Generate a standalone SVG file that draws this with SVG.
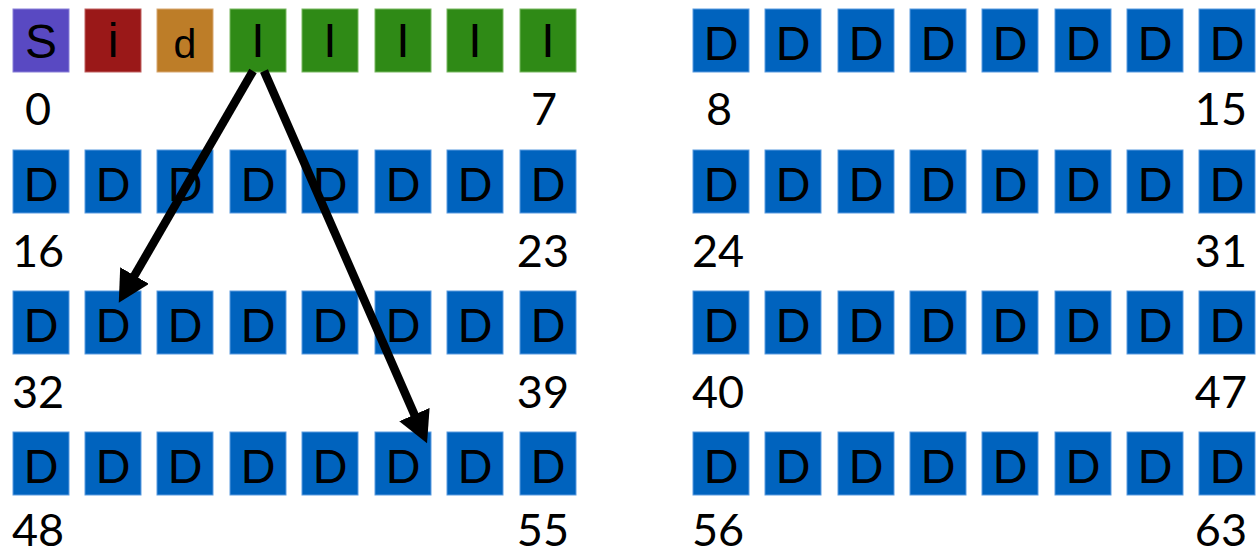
<svg xmlns="http://www.w3.org/2000/svg" width="1256" height="555" viewBox="0 0 1256 555">
<style>
.b{stroke-width:1}
.D{fill:#0063be;stroke:#5a9be0}
.S{fill:#5949c2;stroke:#8a80d8}
.i{fill:#9a1818;stroke:#c06060}
.d{fill:#bd7d28;stroke:#d8a870}
.I{fill:#2f8a16;stroke:#78b860}
.t{font-family:Lato,"Open Sans",sans-serif;font-size:46px;fill:#000;text-anchor:middle}
.a{font-family:"Liberation Sans",Arial,sans-serif;font-size:48px;fill:#000;text-anchor:middle}
.n{font-family:Lato,"Open Sans",sans-serif;font-size:45px;fill:#000}
.e{text-anchor:end}
.ar{stroke:#000;stroke-width:8.5;fill:none}
</style>
<defs>
<marker id="ah" viewBox="0 0 10 10" refX="3" refY="5" markerWidth="3.7" markerHeight="3.9" orient="auto" preserveAspectRatio="none"><path d="M0,0 L10,5 L0,10 z" fill="#000"/></marker>
<g id="dbox"><rect class="b D" x="0" y="0" width="56" height="63"/><text class="t" x="28" y="51">D</text></g>
</defs>
<!-- row 1 left -->
<g id="n0"><rect class="b S" x="13" y="9" width="56" height="63"/><text class="a" x="41" y="58">S</text></g>
<g id="n1"><rect class="b i" x="85" y="9" width="56" height="63"/><text class="a" x="113" y="57">i</text></g>
<g id="n2"><rect class="b d" x="157" y="9" width="56" height="63"/><text class="a" x="185" y="58" style="font-size:41px">d</text></g>
<g id="n3"><rect class="b I" x="230" y="9" width="56" height="63"/><text class="a" x="258" y="57">I</text></g>
<g id="n4"><rect class="b I" x="302" y="9" width="56" height="63"/><text class="a" x="330" y="57">I</text></g>
<g id="n5"><rect class="b I" x="375" y="9" width="56" height="63"/><text class="a" x="403" y="57">I</text></g>
<g id="n6"><rect class="b I" x="447" y="9" width="56" height="63"/><text class="a" x="475" y="57">I</text></g>
<g id="n7"><rect class="b I" x="520" y="9" width="56" height="63"/><text class="a" x="548" y="57">I</text></g>
<!-- right row 1 -->
<g id="n8"><use href="#dbox" x="693" y="9"/></g>
<g id="n9"><use href="#dbox" x="765" y="9"/></g>
<g id="n10"><use href="#dbox" x="838" y="9"/></g>
<g id="n11"><use href="#dbox" x="910" y="9"/></g>
<g id="n12"><use href="#dbox" x="982" y="9"/></g>
<g id="n13"><use href="#dbox" x="1055" y="9"/></g>
<g id="n14"><use href="#dbox" x="1127" y="9"/></g>
<g id="n15"><use href="#dbox" x="1199" y="9"/></g>
<!-- left row 2 -->
<g id="n16"><use href="#dbox" x="13" y="150"/></g>
<g id="n17"><use href="#dbox" x="85" y="150"/></g>
<g id="n18"><use href="#dbox" x="157" y="150"/></g>
<g id="n19"><use href="#dbox" x="230" y="150"/></g>
<g id="n20"><use href="#dbox" x="302" y="150"/></g>
<g id="n21"><use href="#dbox" x="375" y="150"/></g>
<g id="n22"><use href="#dbox" x="447" y="150"/></g>
<g id="n23"><use href="#dbox" x="520" y="150"/></g>
<!-- right row 2 -->
<g id="n24"><use href="#dbox" x="693" y="150"/></g>
<g id="n25"><use href="#dbox" x="765" y="150"/></g>
<g id="n26"><use href="#dbox" x="838" y="150"/></g>
<g id="n27"><use href="#dbox" x="910" y="150"/></g>
<g id="n28"><use href="#dbox" x="982" y="150"/></g>
<g id="n29"><use href="#dbox" x="1055" y="150"/></g>
<g id="n30"><use href="#dbox" x="1127" y="150"/></g>
<g id="n31"><use href="#dbox" x="1199" y="150"/></g>
<!-- left row 3 -->
<g id="n32"><use href="#dbox" x="13" y="291"/></g>
<g id="n33"><use href="#dbox" x="85" y="291"/></g>
<g id="n34"><use href="#dbox" x="157" y="291"/></g>
<g id="n35"><use href="#dbox" x="230" y="291"/></g>
<g id="n36"><use href="#dbox" x="302" y="291"/></g>
<g id="n37"><use href="#dbox" x="375" y="291"/></g>
<g id="n38"><use href="#dbox" x="447" y="291"/></g>
<g id="n39"><use href="#dbox" x="520" y="291"/></g>
<!-- right row 3 -->
<g id="n40"><use href="#dbox" x="693" y="291"/></g>
<g id="n41"><use href="#dbox" x="765" y="291"/></g>
<g id="n42"><use href="#dbox" x="838" y="291"/></g>
<g id="n43"><use href="#dbox" x="910" y="291"/></g>
<g id="n44"><use href="#dbox" x="982" y="291"/></g>
<g id="n45"><use href="#dbox" x="1055" y="291"/></g>
<g id="n46"><use href="#dbox" x="1127" y="291"/></g>
<g id="n47"><use href="#dbox" x="1199" y="291"/></g>
<!-- left row 4 -->
<g id="n48"><use href="#dbox" x="13" y="432"/></g>
<g id="n49"><use href="#dbox" x="85" y="432"/></g>
<g id="n50"><use href="#dbox" x="157" y="432"/></g>
<g id="n51"><use href="#dbox" x="230" y="432"/></g>
<g id="n52"><use href="#dbox" x="302" y="432"/></g>
<g id="n53"><use href="#dbox" x="375" y="432"/></g>
<g id="n54"><use href="#dbox" x="447" y="432"/></g>
<g id="n55"><use href="#dbox" x="520" y="432"/></g>
<!-- right row 4 -->
<g id="n56"><use href="#dbox" x="693" y="432"/></g>
<g id="n57"><use href="#dbox" x="765" y="432"/></g>
<g id="n58"><use href="#dbox" x="838" y="432"/></g>
<g id="n59"><use href="#dbox" x="910" y="432"/></g>
<g id="n60"><use href="#dbox" x="982" y="432"/></g>
<g id="n61"><use href="#dbox" x="1055" y="432"/></g>
<g id="n62"><use href="#dbox" x="1127" y="432"/></g>
<g id="n63"><use href="#dbox" x="1199" y="432"/></g>
<!-- index labels -->
<g id="labels">
<text class="n" x="25" y="125">0</text>
<text class="n e" x="557" y="125">7</text>
<text class="n" x="706" y="125">8</text>
<text class="n e" x="1247" y="125">15</text>
<text class="n" x="12" y="267">16</text>
<text class="n e" x="569" y="267">23</text>
<text class="n" x="692" y="267">24</text>
<text class="n e" x="1247" y="267">31</text>
<text class="n" x="12" y="408">32</text>
<text class="n e" x="569" y="408">39</text>
<text class="n" x="692" y="408">40</text>
<text class="n e" x="1247" y="408">47</text>
<text class="n" x="12" y="546">48</text>
<text class="n e" x="569" y="546">55</text>
<text class="n" x="692" y="546">56</text>
<text class="n e" x="1247" y="546">63</text>
</g>
<g id="connectors">
<line class="ar" x1="253" y1="71" x2="129.8" y2="283.7" marker-end="url(#ah)"/>
<line class="ar" x1="264" y1="71" x2="418.2" y2="423.2" marker-end="url(#ah)"/>
</g>
</svg>
